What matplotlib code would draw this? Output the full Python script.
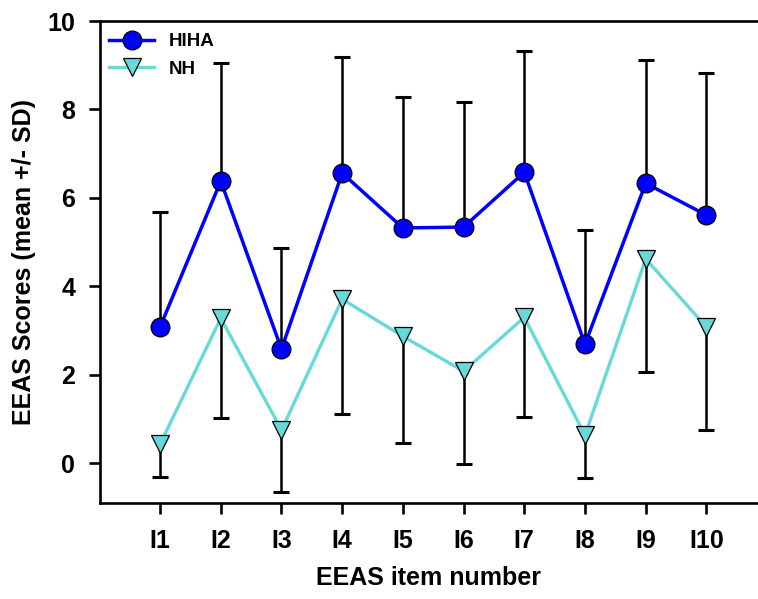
import numpy as np
import matplotlib
matplotlib.use("Agg")
import matplotlib.pyplot as plt

plt.rcParams['font.family'] = ['Liberation Sans', 'DejaVu Sans']
plt.rcParams['font.weight'] = 'bold'

items = ['I1', 'I2', 'I3', 'I4', 'I5', 'I6', 'I7', 'I8', 'I9', 'I10']
hiha_mean = [3.08, 6.38, 2.58, 6.56, 5.32, 5.34, 6.58, 2.69, 6.33, 5.61]
hiha_sd = [2.60, 2.67, 2.28, 2.63, 2.96, 2.83, 2.74, 2.58, 2.79, 3.21]
nh_mean = [0.43, 3.28, 0.75, 3.71, 2.87, 2.08, 3.30, 0.63, 4.62, 3.08]
nh_sd = [0.75, 2.26, 1.40, 2.60, 2.42, 2.10, 2.26, 0.97, 2.56, 2.34]


def main():
    x = np.arange(1, len(items) + 1)
    hm, hs = np.array(hiha_mean), np.array(hiha_sd)
    nm, ns = np.array(nh_mean), np.array(nh_sd)

    fig = plt.figure(figsize=(7.58, 5.99), dpi=100)
    ax = fig.add_axes([100 / 758, 1 - 503 / 599, 658 / 758, 482 / 599])

    # error bars: HIHA only upwards, NH only downwards
    ax.vlines(x, hm, hm + hs, color='black', lw=1.8, zorder=1)
    ax.plot(x, hm + hs, ls='none', marker='_', ms=11, mew=2.2, color='black', zorder=1)
    ax.vlines(x, nm - ns, nm, color='black', lw=1.8, zorder=1)
    ax.plot(x, nm - ns, ls='none', marker='_', ms=11, mew=2.2, color='black', zorder=1)

    ax.plot(x, nm, color='#66d9d9', lw=2.4, marker='v', ms=13.5,
            mfc='#66d9d9', mec='black', mew=0.9, label='NH', zorder=3)
    ax.plot(x, hm, color='#0000ff', lw=2.5, marker='o', ms=13.5,
            mfc='#0000ff', mec='black', mew=0.9, label='HIHA', zorder=4)

    ax.set_xlim(0.01, 10.85)
    ax.set_ylim(-0.9, 10)
    ax.set_xticks(x)
    ax.set_xticklabels(items)
    ax.set_yticks([0, 2, 4, 6, 8, 10])

    for side in ['left', 'bottom', 'top']:
        ax.spines[side].set_linewidth(1.9)
    ax.spines['right'].set_visible(False)
    ax.tick_params(axis='both', direction='out', length=8, width=1.9,
                   labelsize=18, pad=10)
    ax.tick_params(axis='x', pad=11)

    ax.set_xlabel('EEAS item number', fontsize=18, fontweight='bold', labelpad=9)
    ax.set_ylabel('EEAS Scores (mean +/- SD)', fontsize=18, fontweight='bold', labelpad=8)

    handles, labels = ax.get_legend_handles_labels()
    ax.legend(handles[::-1], labels[::-1], loc='upper left', frameon=False,
              fontsize=13.5, handlelength=2.4, handletextpad=0.8,
              labelspacing=0.55, borderpad=0, borderaxespad=0,
              bbox_to_anchor=(9 / 658, 1 - 12 / 482))

    fig.savefig('out.png', dpi=100)


if __name__ == "__main__":
    main()
